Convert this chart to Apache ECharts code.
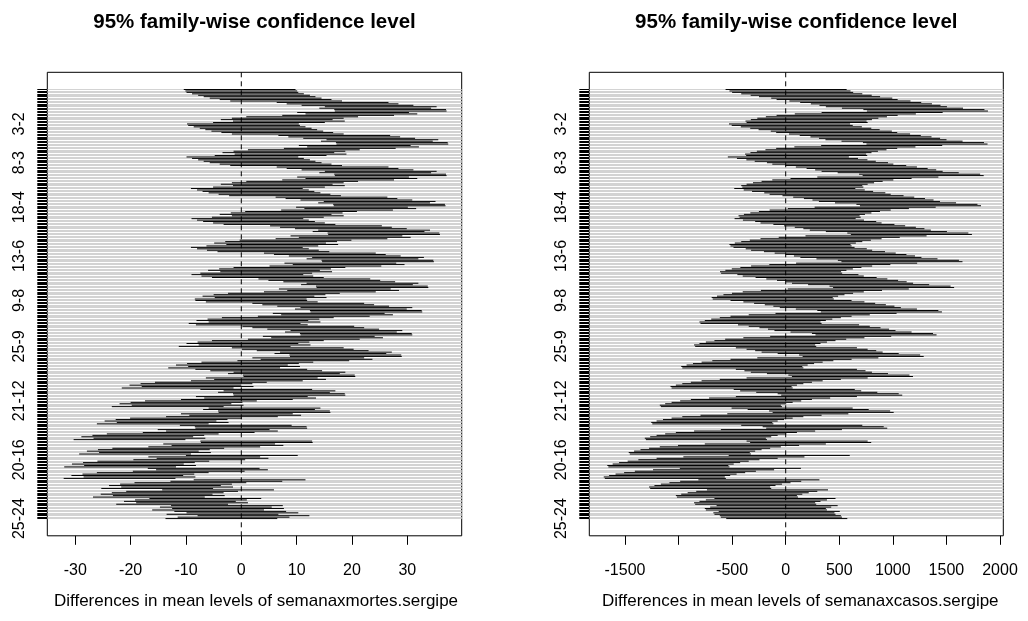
<!DOCTYPE html>
<html>
<head>
<meta charset="utf-8">
<script src="https://cdn.jsdelivr.net/npm/echarts@6/dist/echarts.min.js"></script>
<style>
  html, body { margin: 0; padding: 0; background: #ffffff; }
  #chart { width: 1028px; height: 621px; }
</style>
</head>
<body>
<div id="chart"></div>
<script>
// Week levels of the factor (Tukey HSD compares every pair i-j, i > j)
const weeks = ['1','2','3','4','5','6','7','8','9','10','11','12','13','14','15','16','17','18','19','20','21','22','23','24','25'];

// Mean weekly deaths per level, expressed relative to week 1
const mortesWeekMeans = [0, -0.3, 0, 0.2, 1.2, 2.3, 3.3, 4.4, 6.2, 8.1, 16.5, 18.3, 21, 25.2, 24.2, 26.9, 27, 20.2, 21.7, 17.5, 11, 8.4, 6.4, 8.6, 5];
// Half width of the 95% family-wise interval (equal group sizes)
const mortesHalfWidth = 10.1;

// Mean weekly cases per level, expressed relative to week 1
const casosWeekMeans = [0, 4, 40, 65, 150, 238, 316, 430, 480, 600, 700, 800, 880, 940, 1090, 1290, 1323, 900, 650, 480, 380, 300, 240, 190, 200];
const casosHalfWidth = 565;

// Comparison labels that fit on the y axis
const shownPairLabels = ['3-2', '8-3', '18-4', '13-6', '9-8', '25-9', '21-12', '20-16', '25-24'];

// x tick values
const mortesTicks = [-30, -20, -10, 0, 10, 20, 30];
const casosTicks = [-1500, -1000, -500, 0, 500, 1000, 1500, 2000];
const casosSkippedTickLabels = [-1000];

// ---- build the comparisons in TukeyHSD order ----
const pairs = [];
for (let j = 0; j < weeks.length; j++) {
  for (let i = j + 1; i < weeks.length; i++) pairs.push([i, j]);
}
const pairLabels = pairs.map(([i, j]) => weeks[i] + '-' + weeks[j]);

// padding rows above / below the comparisons (4% axis expansion)
const PAD = 12;
const yCategories = [];
for (let k = 0; k < PAD; k++) yCategories.push('top' + k);
pairLabels.forEach(l => yCategories.push(l));
for (let k = 0; k < PAD; k++) yCategories.push('bottom' + k);
const isPairRow = idx => idx >= PAD && idx < PAD + pairLabels.length;

function intervals(means, hw) {
  return pairs.map(([i, j], k) => {
    const d = means[i] - means[j];
    return [d - hw, d + hw, PAD + k];
  });
}

// ---- layout ----
const BOX_TOP = 72.3, BOX_H = 463.5;
const panels = [
  { left: 47.3, width: 414.4, min: -35.06, max: 39.83, ticks: mortesTicks,
    data: intervals(mortesWeekMeans, mortesHalfWidth), skip: [], xlabShift: 1.5,
    title: '95% family-wise confidence level',
    xlab: 'Differences in mean levels of semanaxmortes.sergipe' },
  { left: 589.3, width: 414.0, min: -1833, max: 2031, ticks: casosTicks,
    data: intervals(casosWeekMeans, casosHalfWidth), skip: casosSkippedTickLabels, xlabShift: 4,
    title: '95% family-wise confidence level',
    xlab: 'Differences in mean levels of semanaxcasos.sergipe' }
];

const FONT = '"Liberation Sans", Arial, Helvetica, sans-serif';
const grid = [], xAxis = [], yAxis = [], series = [], graphic = [];

panels.forEach((p, n) => {
  const scale = p.width / (p.max - p.min);
  const tMin = p.ticks[0], tMax = p.ticks[p.ticks.length - 1];
  const tickLeft = p.left + (tMin - p.min) * scale;
  const tickWidth = (tMax - tMin) * scale;
  const gData = grid.length;
  grid.push({ left: p.left, top: BOX_TOP, width: p.width, height: BOX_H,
              show: true, borderColor: '#000', borderWidth: 1, backgroundColor: 'transparent' });
  const gTick = grid.length;
  grid.push({ left: tickLeft, top: BOX_TOP, width: tickWidth, height: BOX_H, show: false });

  const xData = xAxis.length;
  xAxis.push({ type: 'value', gridIndex: gData, min: p.min, max: p.max, show: false,
    axisLine: { onZero: false } });
  const step = p.ticks[1] - p.ticks[0];
  xAxis.push({ type: 'value', gridIndex: gTick, min: tMin, max: tMax, interval: step, position: 'bottom',
    axisLine: { show: false, onZero: false }, splitLine: { show: false },
    axisTick: { show: true, length: 9, lineStyle: { color: '#000', width: 1 } },
    axisLabel: { show: true, margin: 27, color: '#000', fontSize: 16, fontFamily: FONT,
      formatter: v => (p.skip.indexOf(v) >= 0 ? '' : String(v)) } });

  const yData = yAxis.length;
  yAxis.push({ type: 'category', gridIndex: gData, data: yCategories, inverse: true, boundaryGap: false,
    position: 'left',
    axisLine: { show: false, onZero: false },
    axisTick: { show: true, length: 10, interval: idx => isPairRow(idx), lineStyle: { color: '#000', width: 1 } },
    axisLabel: { show: true, rotate: 90, margin: 20, color: '#000', fontSize: 16, fontFamily: FONT,
      interval: (idx, v) => shownPairLabels.indexOf(v) >= 0 },
    splitLine: { show: true, interval: idx => isPairRow(idx), lineStyle: { color: '#d3d3d3', width: 1 } } });
  yAxis.push({ type: 'value', gridIndex: gTick, show: false, axisLine: { onZero: false } });

  // dashed reference line at zero
  series.push({ type: 'custom', xAxisIndex: xData, yAxisIndex: yData, z: 2, silent: true,
    data: [[0]], encode: { x: 0 },
    renderItem: (params, api) => {
      const cs = params.coordSys;
      const x = api.coord([0, PAD])[0];
      return { type: 'line', shape: { x1: x, y1: cs.y, x2: x, y2: cs.y + cs.height },
               style: { stroke: '#000', lineWidth: 1, lineDash: [5, 4] } };
    } });

  // confidence intervals
  series.push({ type: 'custom', xAxisIndex: xData, yAxisIndex: yData, z: 3, silent: true,
    data: p.data, encode: { x: [0, 1], y: 2 },
    renderItem: (params, api) => {
      const row = api.value(2);
      const a = api.coord([api.value(0), row]);
      const b = api.coord([api.value(1), row]);
      return { type: 'line', shape: { x1: a[0], y1: a[1], x2: b[0], y2: b[1] },
               style: { stroke: '#000', lineWidth: 1 } };
    } });

  const cx = p.left + p.width / 2;
  graphic.push({ type: 'text', x: cx, y: 22, silent: true,
    style: { text: p.title, font: 'bold 20.5px ' + FONT, fill: '#000', align: 'center', verticalAlign: 'middle' } });
  graphic.push({ type: 'text', x: cx + p.xlabShift, y: 601, silent: true,
    style: { text: p.xlab, font: '17px ' + FONT, fill: '#000', align: 'center', verticalAlign: 'middle' } });
});

const chart = echarts.init(document.getElementById('chart'), null, { renderer: 'canvas' });
chart.setOption({
  animation: false,
  backgroundColor: '#ffffff',
  grid, xAxis, yAxis, series, graphic
});
</script>
</body>
</html>
